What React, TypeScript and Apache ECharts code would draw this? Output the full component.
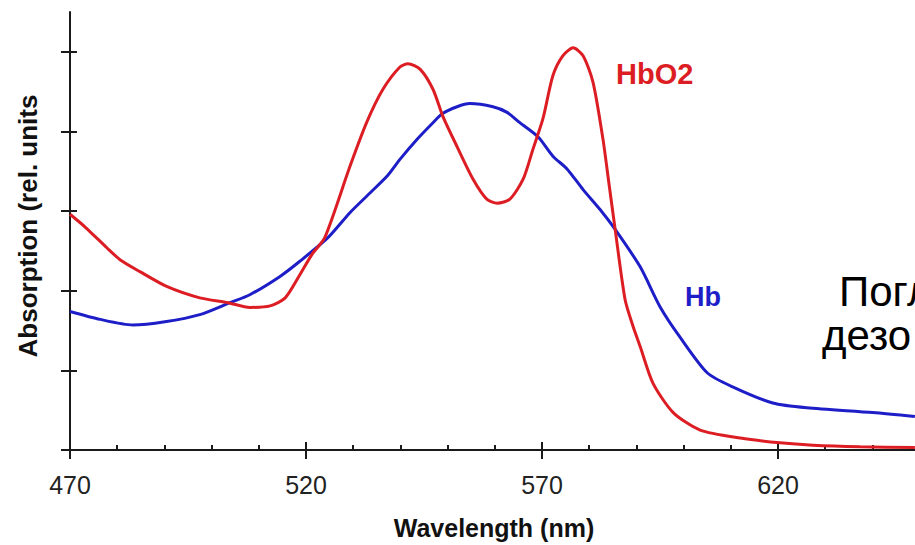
import React, { useEffect, useRef } from "react";
import * as echarts from "echarts";

// HbO2 (oxyhemoglobin) absorption, wavelength in nm
const hbO2Wavelengths = [
  470, 473.2, 477.8, 480.6, 484.8, 490.6, 497.5, 503.5, 508.1, 512.4, 515.6, 518.7, 521.3, 524.0,
  529.3, 532.9, 536.3, 539.9, 541.6, 544.2, 546.9, 549.0, 552.0, 555.4, 558.3, 560.5, 563.2, 566.0,
  568.1, 570.2, 572.3, 574.4, 576.6, 578.7, 580.8, 582.9, 584.2, 585.5, 587.6, 589.3, 590.8, 593.5,
  597.8, 603.5, 612.0, 620.4, 627.4, 637.4, 649.0,
];
const hbO2Values = [
  2.96, 2.8, 2.54, 2.39, 2.24, 2.05, 1.91, 1.85, 1.79, 1.81, 1.91, 2.2, 2.46, 2.67,
  3.56, 4.12, 4.53, 4.81, 4.85, 4.78, 4.53, 4.19, 3.81, 3.4, 3.15, 3.1, 3.15, 3.4,
  3.78, 4.16, 4.7, 4.95, 5.05, 4.95, 4.62, 3.91, 3.34, 2.77, 1.89, 1.55, 1.3, 0.84,
  0.47, 0.25, 0.15, 0.09, 0.06, 0.04, 0.03,
];

// Hb (deoxyhemoglobin) absorption
const hbWavelengths = [
  470, 476.4, 483.3, 490.1, 497.5, 503.9, 508.1, 514.5, 518.7, 524.7, 529.3, 532.9, 537.2, 539.9,
  543.5, 546.9, 548.8, 552.0, 554.7, 559.6, 562.6, 565.3, 569.2, 572.3, 575.3, 578.7, 582.3, 585.5,
  590.8, 595.0, 599.2, 605.0, 610.5, 618.9, 626.1, 640.1, 649.0,
];
const hbValues = [
  1.74, 1.64, 1.57, 1.61, 1.7, 1.85, 1.95, 2.18, 2.37, 2.67, 2.98, 3.19, 3.44, 3.65,
  3.9, 4.11, 4.22, 4.31, 4.35, 4.31, 4.24, 4.11, 3.93, 3.69, 3.53, 3.27, 3.02, 2.77,
  2.3, 1.8, 1.42, 0.97, 0.79, 0.59, 0.53, 0.47, 0.42,
];

const xTickLabels = [470, 520, 570, 620];
const yTickValues = [0, 1, 2, 3, 4, 5];
const xMin = 470;
const xMax = 670;
const xStep = 50;
const yMax = 5.5;

const xTitle = "Wavelength (nm)";
const yTitle = "Absorption (rel. units";
const hbO2Label = "HbO2";
const hbLabel = "Hb";
const sideLine1 = "Погл";
const sideLine2 = "дезо";

const RED = "#dc1e24";
const BLUE = "#1e1ec8";
const AXIS = "#1a1a1a";
const FONT = '"Liberation Sans", Arial, sans-serif';

export default function App() {
  const ref = useRef<HTMLDivElement>(null);
  useEffect(() => {
    if (!ref.current) return;
    const chart = echarts.init(ref.current, undefined, { renderer: "svg" });
    const hbO2Data = hbO2Wavelengths.map((w, i) => [w, hbO2Values[i]]);
    const hbData = hbWavelengths.map((w, i) => [w, hbValues[i]]);
    const common = {
      type: "value",
      min: xMin,
      max: xMax,
      interval: xStep,
      splitLine: { show: false },
    };
    chart.setOption({
      animation: false,
      backgroundColor: "#ffffff",
      grid: { left: 70, top: 12, right: 26, bottom: 95, containLabel: false, outerBoundsMode: "none" },
      xAxis: [
        {
          ...common,
          position: "bottom",
          axisLine: { show: true, lineStyle: { color: AXIS, width: 2 } },
          axisTick: { show: true, inside: false, length: 9, lineStyle: { color: AXIS, width: 2 } },
          axisLabel: {
            show: true,
            customValues: xTickLabels,
            margin: 22,
            fontSize: 25,
            fontFamily: FONT,
            color: "#222",
          },
        },
        {
          ...common,
          position: "bottom",
          axisLine: { show: false },
          axisTick: { show: true, inside: true, length: 8, lineStyle: { color: AXIS, width: 2 } },
          minorTick: { show: true, splitNumber: 5, length: 5, lineStyle: { color: AXIS, width: 2 } },
          axisLabel: { show: false },
        },
      ],
      yAxis: [
        {
          type: "value",
          min: 0,
          max: yMax,
          interval: 1,
          splitLine: { show: false },
          axisLine: { show: true, lineStyle: { color: AXIS, width: 2 } },
          axisTick: { show: true, inside: false, length: 9, customValues: yTickValues, lineStyle: { color: AXIS, width: 2 } },
          axisLabel: { show: false },
        },
        {
          type: "value",
          min: 0,
          max: yMax,
          interval: 1,
          position: "left",
          offset: 0,
          splitLine: { show: false },
          axisLine: { show: false },
          axisTick: { show: true, inside: true, length: 7, customValues: yTickValues, lineStyle: { color: AXIS, width: 2 } },
          axisLabel: { show: false },
        },
      ],
      series: [
        {
          name: hbLabel,
          type: "line",
          data: hbData,
          xAxisIndex: 0,
          yAxisIndex: 0,
          showSymbol: false,
          smooth: 0.25,
          lineStyle: { color: BLUE, width: 3 },
          z: 2,
        },
        {
          name: hbO2Label,
          type: "line",
          data: hbO2Data,
          xAxisIndex: 0,
          yAxisIndex: 0,
          showSymbol: false,
          smooth: 0.25,
          lineStyle: { color: RED, width: 3 },
          z: 3,
        },
      ],
      graphic: [
        {
          type: "text",
          x: 28,
          y: 226,
          rotation: Math.PI / 2,
          style: { text: yTitle, fontSize: 26, fontWeight: "bold", fontFamily: FONT, fill: "#111", align: "center", verticalAlign: "middle" },
        },
        {
          type: "text",
          x: 494,
          y: 528,
          style: { text: xTitle, fontSize: 25, fontWeight: "bold", fontFamily: FONT, fill: "#111", align: "center", verticalAlign: "middle" },
        },
        {
          type: "text",
          x: 616,
          y: 74,
          style: { text: hbO2Label, fontSize: 29, fontWeight: "bold", fontFamily: FONT, fill: RED, align: "left", verticalAlign: "middle" },
        },
        {
          type: "text",
          x: 685,
          y: 297,
          style: { text: hbLabel, fontSize: 27, fontWeight: "bold", fontFamily: FONT, fill: BLUE, align: "left", verticalAlign: "middle" },
        },
        {
          type: "text",
          x: 839,
          y: 291,
          style: { text: sideLine1, fontSize: 42, fontFamily: FONT, fill: "#000", align: "left", verticalAlign: "middle" },
        },
        {
          type: "text",
          x: 822,
          y: 335,
          style: { text: sideLine2, fontSize: 42, fontFamily: FONT, fill: "#000", align: "left", verticalAlign: "middle" },
        },
      ],
    });
    return () => chart.dispose();
  }, []);
  return (
    <div style={{ position: "fixed", left: 0, top: 0, width: 915, height: 545, overflow: "hidden", background: "#fff" }}>
      <div ref={ref} style={{ width: 1040, height: 545 }} />
    </div>
  );
}
